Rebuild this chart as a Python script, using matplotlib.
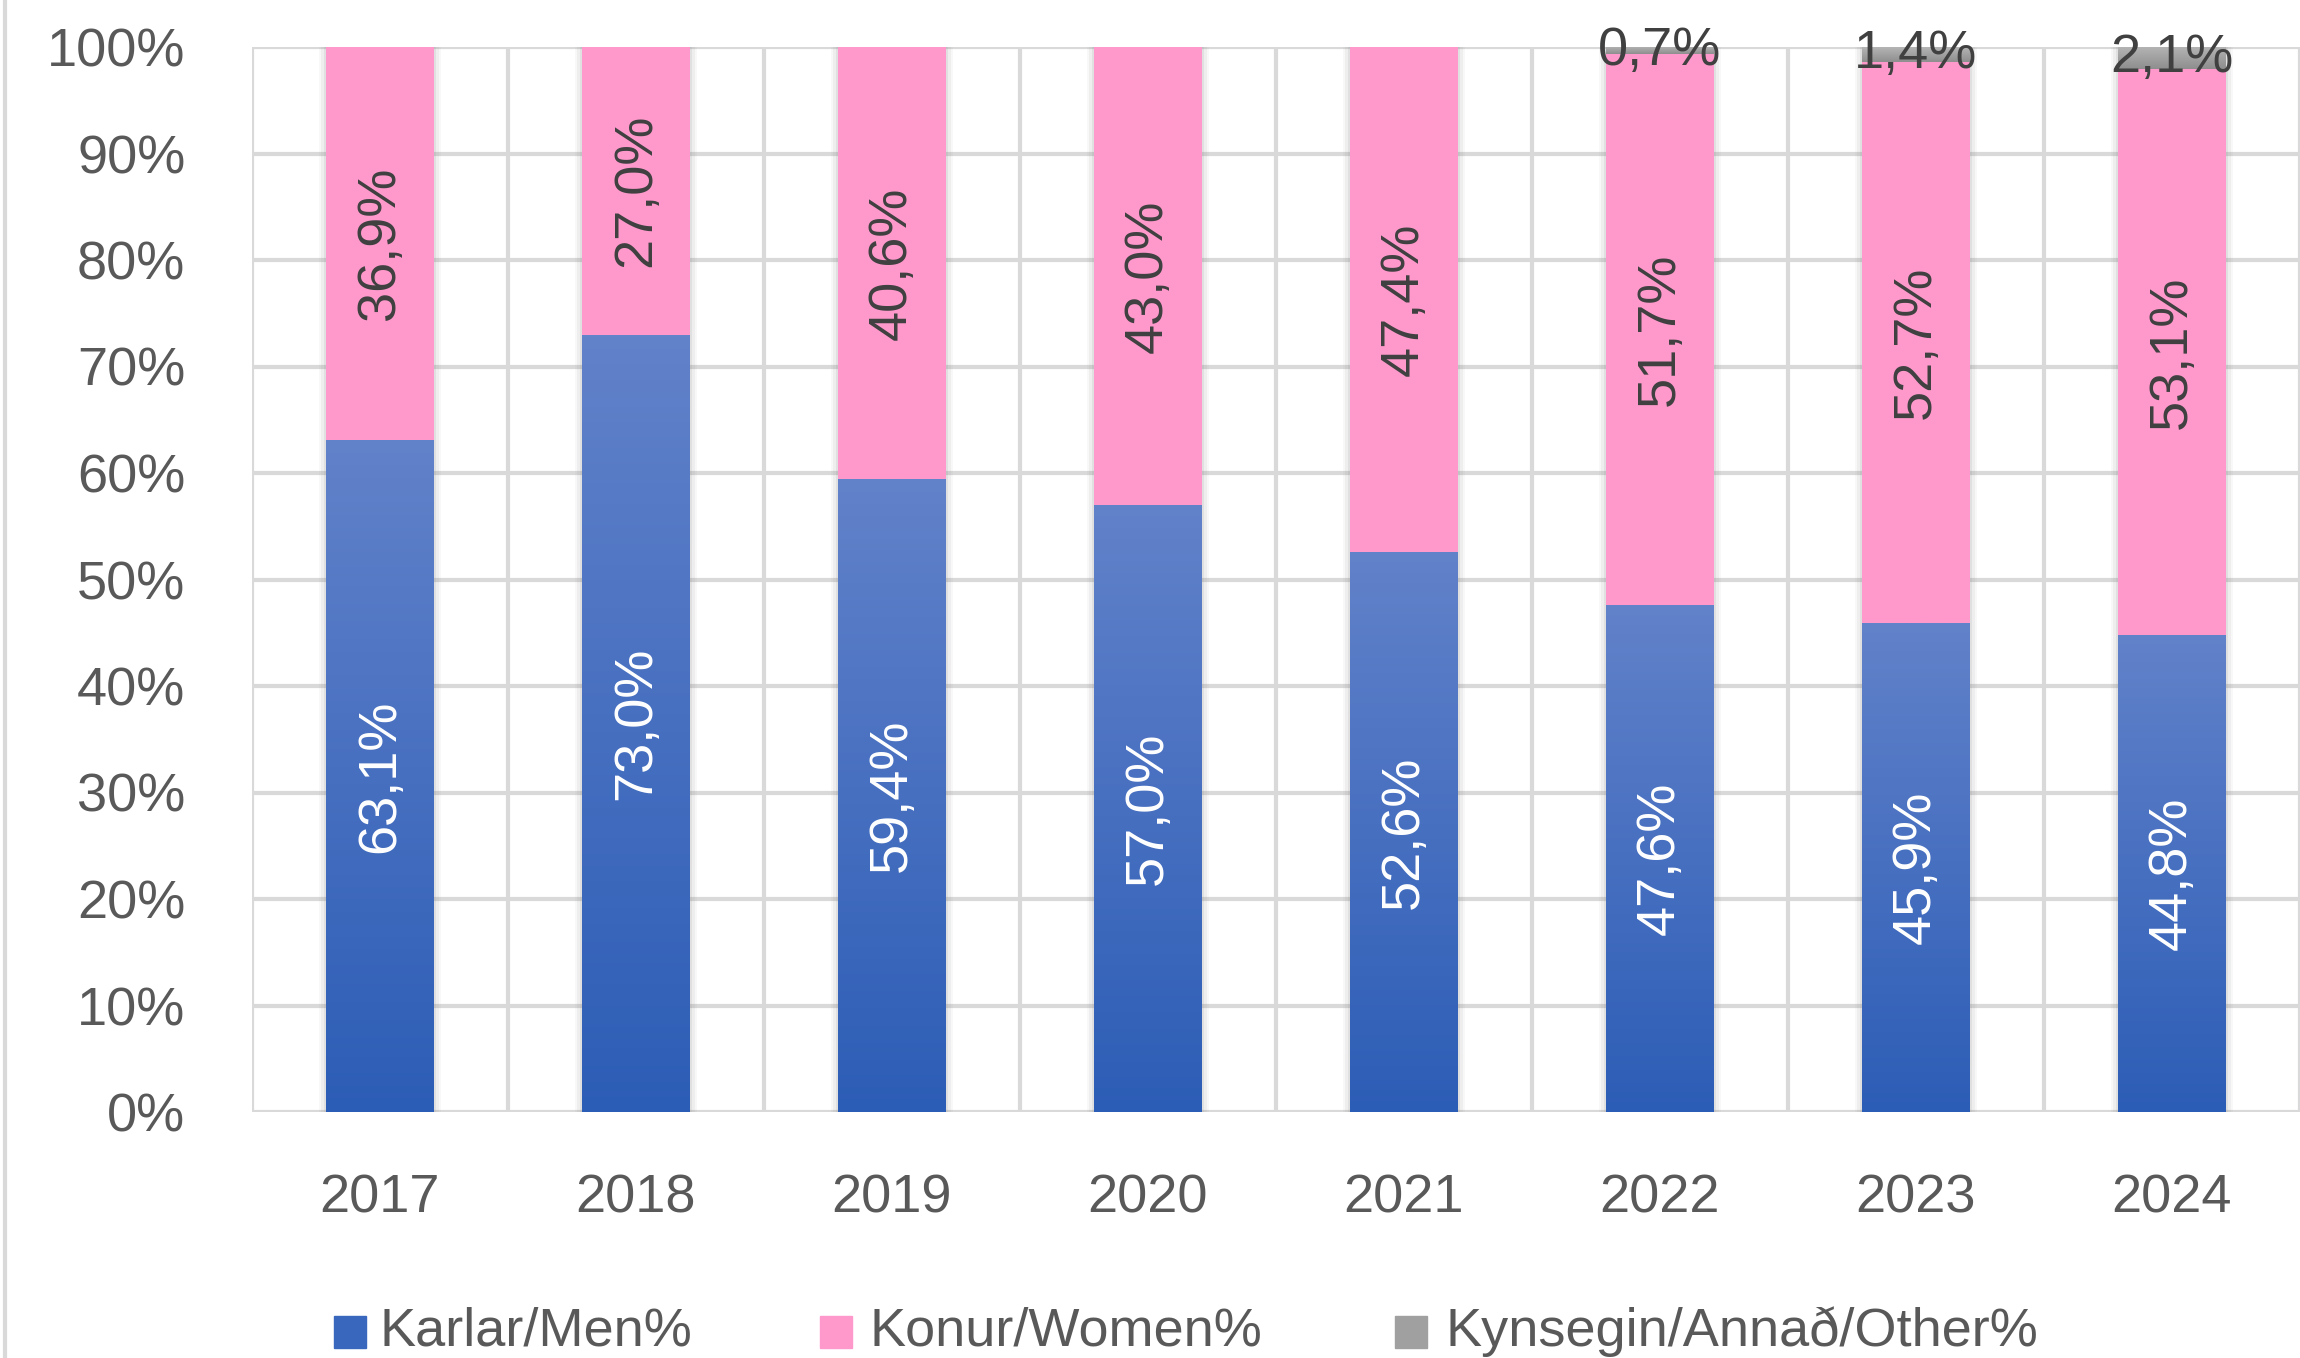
import matplotlib
matplotlib.use("Agg")
import matplotlib.pyplot as plt
import numpy as np
from matplotlib.patches import Rectangle
from matplotlib.lines import Line2D
from matplotlib.colors import LinearSegmentedColormap

years = ["2017", "2018", "2019", "2020", "2021", "2022", "2023", "2024"]
men = [63.1, 73.0, 59.4, 57.0, 52.6, 47.6, 45.9, 44.8]
women = [36.9, 27.0, 40.6, 43.0, 47.4, 51.7, 52.7, 53.1]
other = [0.0, 0.0, 0.0, 0.0, 0.0, 0.7, 1.4, 2.1]
yticks = [0, 10, 20, 30, 40, 50, 60, 70, 80, 90, 100]
legend_labels = ["Karlar/Men%", "Konur/Women%", "Kynsegin/Annað/Other%"]

plt.rcParams['font.family'] = ['Liberation Sans Narrow', 'Liberation Sans', 'DejaVu Sans']
TXT = "#595959"
FS = 39

W, H = 2300, 1358
fig = plt.figure(figsize=(W / 100, H / 100), dpi=100)
ax = fig.add_axes([252 / W, (H - 1112) / H, (W - 252) / W, (1112 - 47) / H])

x = np.arange(len(years))
bw = 0.42
men_a = np.array(men)
women_a = np.array(women)
other_a = np.array(other)
tot = men_a + women_a + other_a

# soft shadows
for extra, a in [(0.06, 0.05), (0.04, 0.08), (0.02, 0.12)]:
    ax.bar(x, tot, width=bw + extra, color="#808080", alpha=a, zorder=1, linewidth=0)

grad = np.linspace(0, 1, 256).reshape(-1, 1)
bcmap = LinearSegmentedColormap.from_list("b", ["#2C5DB6", "#6282CA"])
gcmap = LinearSegmentedColormap.from_list("g", ["#8E8E8E", "#B5B5B5"])

men_bars = ax.bar(x, men_a, width=bw, color="none", zorder=2, linewidth=0)
for b in men_bars:
    x0, y0, w, h = b.get_x(), b.get_y(), b.get_width(), b.get_height()
    im = ax.imshow(grad, cmap=bcmap, origin="lower", aspect="auto",
                   extent=[x0, x0 + w, y0, y0 + h], zorder=2)
    im.set_clip_path(b)

ax.bar(x, women_a, bottom=men_a, width=bw, color="#FF99CC", zorder=2, linewidth=0)
oth_bars = ax.bar(x, other_a, bottom=men_a + women_a, width=bw, color="none", zorder=2, linewidth=0)
for b in oth_bars:
    x0, y0, w, h = b.get_x(), b.get_y(), b.get_width(), b.get_height()
    if h > 0:
        im = ax.imshow(grad, cmap=gcmap, origin="lower", aspect="auto",
                       extent=[x0, x0 + w, y0, y0 + h], zorder=2)
        im.set_clip_path(b)

def fmt(v):
    return f"{v:.1f}".replace(".", ",") + "%"

for i in range(len(years)):
    ax.text(x[i], men_a[i] / 2, fmt(men_a[i]), rotation=90, ha="center", va="center",
            color="white", fontsize=FS, zorder=5)
    ax.text(x[i], men_a[i] + women_a[i] / 2, fmt(women_a[i]), rotation=90, ha="center",
            va="center", color="#404040", fontsize=FS, zorder=5)
    if other_a[i] > 0:
        ax.text(x[i], men_a[i] + women_a[i] + other_a[i] / 2, fmt(other_a[i]), ha="center",
                va="center", color="#404040", fontsize=FS, zorder=5, clip_on=False)

ax.set_xlim(-0.5, len(years) - 0.5)
ax.set_ylim(0, 100)
ax.set_yticks(yticks)
ax.set_yticklabels([f"{t}%" for t in yticks])
ax.set_xticks(x)
ax.set_xticklabels(years)
ax.tick_params(axis="y", length=0, pad=48, labelsize=FS, labelcolor=TXT)
ax.tick_params(axis="x", length=0, pad=44, labelsize=FS, labelcolor=TXT)
ax.set_xticks(np.arange(-0.5, len(years), 1), minor=True)
ax.tick_params(which="minor", length=0)
ax.grid(axis="y", which="major", color="#D9D9D9", linewidth=3, zorder=0)
ax.grid(axis="x", which="minor", color="#D9D9D9", linewidth=3, zorder=0)
ax.grid(axis="x", which="major", visible=False)
for s in ax.spines.values():
    s.set_visible(False)
ax.set_axisbelow(True)

# chart border line on left
fig.add_artist(Line2D([5 / W, 5 / W], [0, 1], color="#D9D9D9", linewidth=3))

# legend
cols = ["#3A67BE", "#FF99CC", "#A0A0A0"]
sq_x = [334, 820, 1395]
tx_x = [380, 870, 1445]
ly = 1332
for c, sx, tx, lab in zip(cols, sq_x, tx_x, legend_labels):
    fig.add_artist(Rectangle((sx / W, (H - ly - 16) / H), 32 / W, 32 / H, color=c,
                             transform=fig.transFigure))
    fig.text(tx / W, (H - ly) / H, lab, ha="left", va="center", fontsize=FS, color=TXT)

fig.savefig("out.png", dpi=100)
